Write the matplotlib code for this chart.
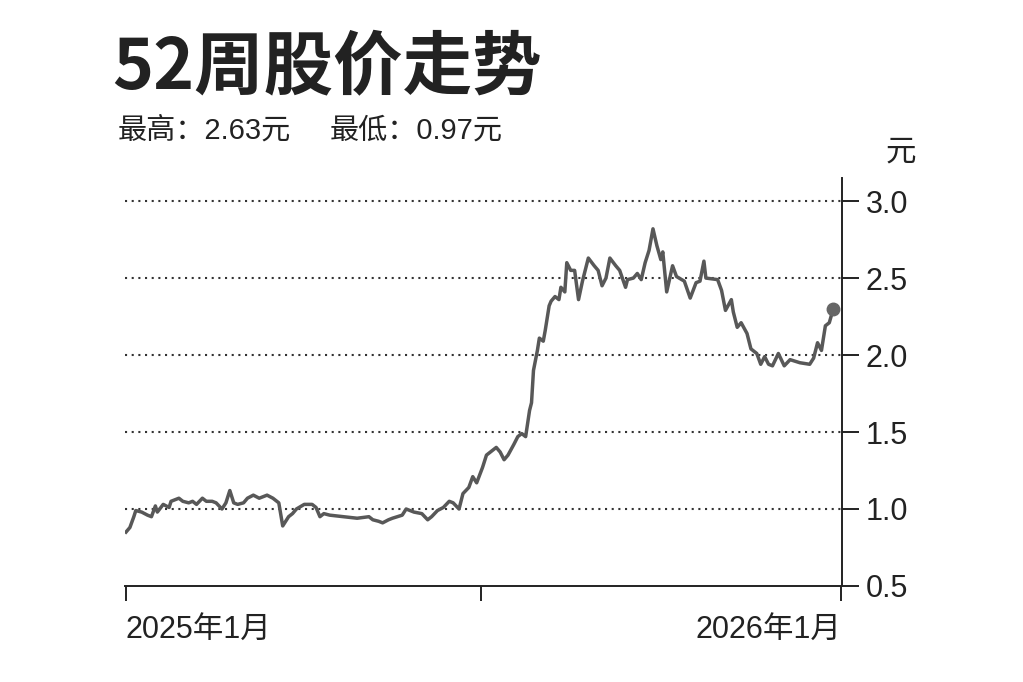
import pandas as pd
import matplotlib.pyplot as plt
from matplotlib.ticker import FormatStrFormatter

plt.rcParams['font.family'] = ['Liberation Sans', 'Noto Sans CJK SC']

# Data: day offset from 2025-01-01 and close price (元)
day_offsets = [0, 2, 4, 5, 8, 11, 13, 15, 16, 19, 22, 23, 27, 29, 32, 34, 36, 39, 41, 44,
               46, 49, 51, 53, 55, 57, 60, 62, 65, 68, 72, 75, 78, 80, 83, 85, 87, 91, 95, 97,
               99, 101, 104, 111, 118, 124, 126, 129, 131, 134, 136, 141, 143, 147, 151, 154,
               156, 159, 162, 165, 167, 170, 172, 175, 177, 179, 182, 184, 187, 189, 191, 193,
               195, 198, 200, 202, 204, 206, 207, 208, 210, 211, 213, 214, 216, 217, 219, 221,
               222, 224, 225, 227, 229, 231, 233, 236, 239, 241, 243, 245, 247, 250, 252, 255,
               256, 259, 261, 263, 265, 267, 269, 271, 273, 274, 276, 279, 281, 285, 288, 291,
               293, 295, 296, 302, 304, 306, 309, 310, 312, 314, 317, 319, 322, 324, 326, 328,
               330, 333, 336, 339, 344, 349, 351, 353, 355, 357, 359, 361]
prices = [0.85, 0.88, 0.95, 0.99, 0.98, 0.96, 0.95, 1.02, 0.98, 1.03, 1.01, 1.05, 1.07, 1.05,
          1.04, 1.05, 1.03, 1.07, 1.05, 1.05, 1.04, 1.00, 1.04, 1.12, 1.04, 1.03, 1.04, 1.07,
          1.09, 1.07, 1.09, 1.07, 1.04, 0.89, 0.95, 0.97, 1.00, 1.03, 1.03, 1.01, 0.95, 0.97,
          0.96, 0.95, 0.94, 0.95, 0.93, 0.92, 0.91, 0.93, 0.94, 0.96, 1.00, 0.98, 0.97, 0.93,
          0.95, 0.99, 1.01, 1.05, 1.04, 1.00, 1.10, 1.14, 1.21, 1.17, 1.27, 1.35, 1.38, 1.40,
          1.37, 1.32, 1.35, 1.42, 1.47, 1.49, 1.47, 1.64, 1.69, 1.90, 2.03, 2.11, 2.09, 2.16,
          2.32, 2.35, 2.38, 2.36, 2.44, 2.41, 2.60, 2.55, 2.55, 2.36, 2.48, 2.63, 2.58, 2.55,
          2.45, 2.50, 2.63, 2.58, 2.55, 2.44, 2.49, 2.50, 2.53, 2.49, 2.60, 2.68, 2.82, 2.71,
          2.62, 2.67, 2.41, 2.58, 2.51, 2.48, 2.37, 2.47, 2.48, 2.61, 2.50, 2.49, 2.42, 2.29,
          2.36, 2.28, 2.18, 2.21, 2.14, 2.04, 2.01, 1.94, 1.99, 1.94, 1.93, 2.01, 1.93, 1.97,
          1.95, 1.94, 1.98, 2.08, 2.03, 2.19, 2.21, 2.30]

title = '52周股价走势'
high_text = '最高：2.63元'
low_text = '最低：0.97元'
y_ticks = [0.5, 1.0, 1.5, 2.0, 2.5, 3.0]
x_tick_dates = ['2025-01-01', '2025-07-01', '2026-01-01']
x_tick_labels = ['2025年1月', '', '2026年1月']

start = pd.Timestamp('2025-01-01')
dates = start + pd.to_timedelta(day_offsets, unit='D')

ink = '#222222'
fig = plt.figure(figsize=(10.23, 6.82), dpi=100)
ax = fig.add_axes([0.1222, 0.1408, 0.7009, 0.5982])

ax.plot(dates, prices, color='#585858', lw=2.5, zorder=3)
ax.plot(dates[-1], prices[-1], 'o', color='#666666', ms=9, zorder=4)

ax.set_xlim(start - pd.Timedelta(days=0.5), start + pd.Timedelta(days=365.5))
ax.set_ylim(0.5, 3.15)

# spines: only right and bottom
for side in ['left', 'top']:
    ax.spines[side].set_visible(False)
for side in ['right', 'bottom']:
    ax.spines[side].set_linewidth(1.4)
    ax.spines[side].set_color(ink)

ax.yaxis.tick_right()
ax.set_yticks(y_ticks)
ax.yaxis.set_major_formatter(FormatStrFormatter('%.1f'))
ax.tick_params(axis='y', direction='out', length=12, width=1.4, color=ink,
               labelsize=22, labelcolor=ink, pad=5)

ax.set_xticks(pd.to_datetime(x_tick_dates))
ax.set_xticklabels(x_tick_labels)
ax.tick_params(axis='x', direction='out', length=11, width=1.4, color=ink,
               labelsize=22, labelcolor=ink, pad=10)
xl = ax.get_xticklabels()
xl[0].set_ha('left')
xl[2].set_ha('right')

# dotted guide lines
for v in y_ticks[1:]:
    ax.axhline(v, color='#333333', lw=1.5, ls=(0, (1, 2.2)), zorder=1)

fig.text(0.110, 0.871, title, fontsize=50, fontweight='black', color=ink,
         family=['Noto Sans CJK SC'], va='baseline')
fig.text(0.115, 0.808, high_text, fontsize=21, color=ink, va='center')
fig.text(0.322, 0.808, low_text, fontsize=21, color=ink, va='center')
fig.text(0.881, 0.777, '元', fontsize=22, color=ink, ha='center', va='center')

fig.savefig('out.png', dpi=100, facecolor='white')
